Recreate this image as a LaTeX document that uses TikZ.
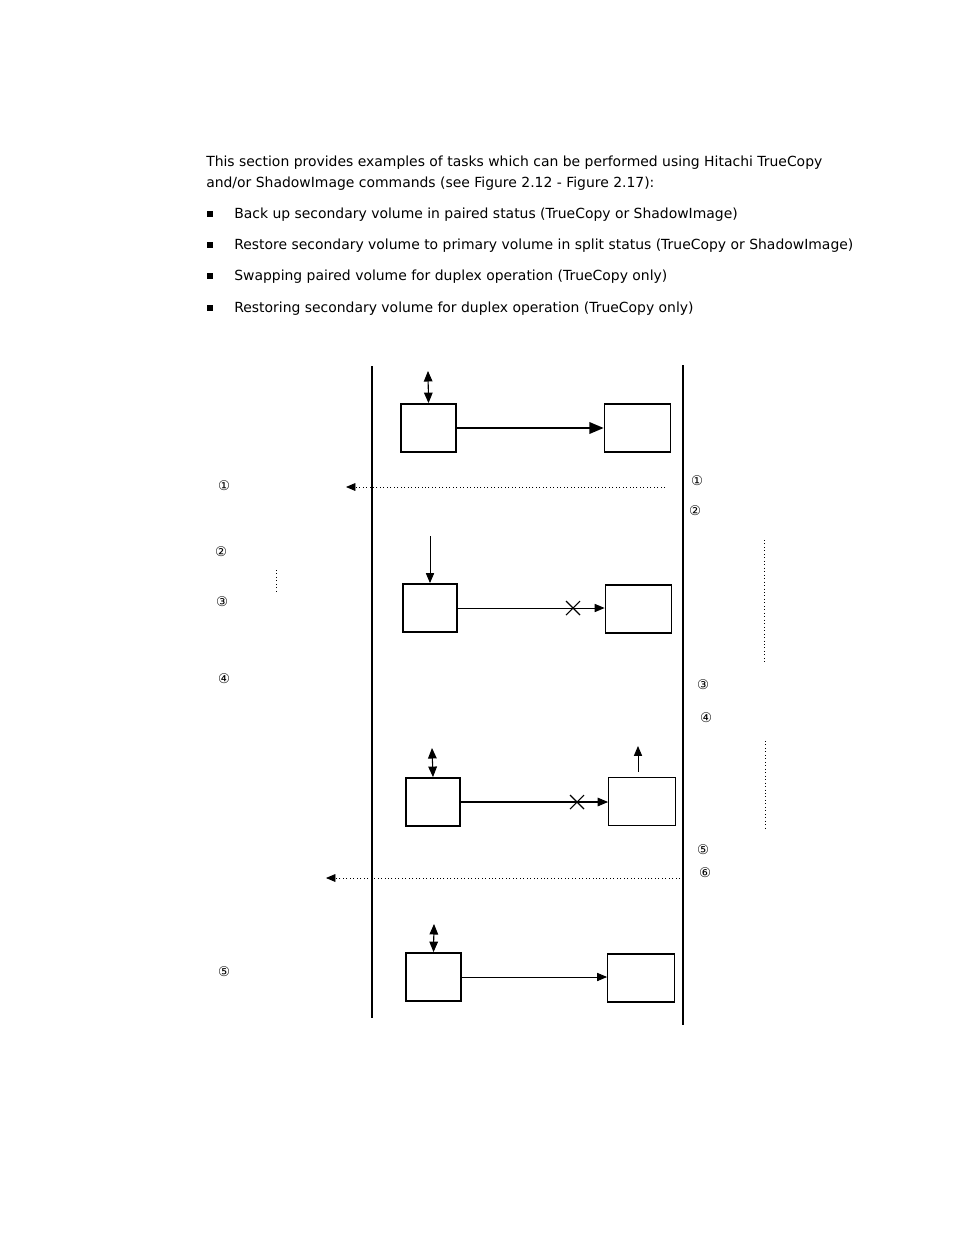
\documentclass[tikz,border=0pt]{standalone}
\usepackage{fontspec}
\setmainfont{DejaVu Sans}
\usetikzlibrary{arrows,positioning}

\begin{document}
\begin{tikzpicture}[x=0.75pt,y=-0.75pt,
  txt/.style={anchor=base west,inner sep=0pt,font=\fontsize{10.45}{12}\selectfont},
  num/.style={inner sep=0pt,font=\fontsize{10}{12}\selectfont},
  bul/.style={fill=black,inner sep=0pt,minimum size=4.2pt},
  pbox/.style={draw,line width=1.4pt,minimum width=41pt,minimum height=36pt,inner sep=0pt},
  sbox/.style={draw,line width=0.9pt,minimum width=50pt,minimum height=36pt,inner sep=0pt},
  site/.style={line width=1.6pt},
  copy/.style={-triangle 45,line width=1.5pt},
  io/.style={triangle 45-triangle 45,line width=0.8pt},
  note/.style={dotted,line width=0.6pt},
  cut/.style={line width=0.8pt}]
\useasboundingbox (0,0) rectangle (954,1235);

% text
\node[txt] (t1) at (206,166) {This section provides examples of tasks which can be performed using Hitachi TrueCopy};
\node[txt] (t2) at (206,187) {and/or ShadowImage commands (see Figure 2.12 - Figure 2.17):};
\foreach \y/\s in {218/Back up secondary volume in paired status (TrueCopy or ShadowImage),
  249/Restore secondary volume to primary volume in split status (TrueCopy or ShadowImage),
  280/Swapping paired volume for duplex operation (TrueCopy only),
  312/Restoring secondary volume for duplex operation (TrueCopy only)}{
  \node[bul] at (210,\y-4) {};
  \node[txt] at (234,\y) {\s};
}

% sites
\coordinate (lt) at (372,366); \coordinate (lb) at (372,1018);
\coordinate (rt) at (683,365); \coordinate (rb) at (683,1025);
\draw[site] (lt) -- (lb);
\draw[site] (rt) -- (rb);

% paired
\node[pbox] (p1) at (428.5,428) {};
\node[sbox] (s1) at (637.5,428) {};
\coordinate (h1) at (428,371);
\draw[io] (h1) -- (p1.north);
\draw[copy] (p1.east) -- (p1.east -| s1.west);

% notify
\coordinate (n1a) at (665,487); \coordinate (n1b) at (346,487);
\draw[note,-triangle 45] (n1a) -- (n1b);
\node[num] (l1) at (224,486) {①};
\node[num] (r1) at (697,481) {①};
\node[num] (r2) at (695,511) {②};

% split
\node[pbox] (p2) at (430,608) {};
\node[sbox] (s2) at (638.5,609) {};
\coordinate (h2) at (430,536);
\draw[-triangle 45,line width=0.7pt] (h2) -- (p2.north);
\draw[-triangle 45,line width=0.7pt] (p2.east) -- (p2.east -| s2.west);
\node[cut] (x2) at (573,608) {};
\draw[cut] (x2) ++(-7,-7) -- ++(14,14) (x2) ++(-7,7) -- ++(14,-14);

\node[num] (l2) at (221,552) {②};
\coordinate (d1a) at (276,570); \coordinate (d1b) at (276,593);
\draw[note] (d1a) -- (d1b);
\node[num] (l3) at (222,602) {③};
\node[num] (l4) at (224,679) {④};
\coordinate (d2a) at (764,540); \coordinate (d2b) at (764,664);
\draw[note] (d2a) -- (d2b);
\node[num] (r3) at (703,685) {③};
\node[num] (r4) at (706,718) {④};

% swap
\node[pbox] (p3) at (433,802) {};
\node[sbox] (s3) at (642,801.5) {};
\coordinate (h3) at (432,748);
\draw[io] (h3) -- (p3.north);
\coordinate (h4) at (638,746);
\draw[-triangle 45,line width=0.7pt] (s3.north -| h4) ++(0,-5) -- (h4);
\draw[-triangle 45,line width=0.8pt] (p3.east) -- (p3.east -| s3.west);
\node[cut] (x3) at (577,802) {};
\draw[cut] (x3) ++(-7,-7) -- ++(14,14) (x3) ++(-7,7) -- ++(14,-14);
\coordinate (d3a) at (765,741); \coordinate (d3b) at (765,829);
\draw[note] (d3a) -- (d3b);
\node[num] (r5) at (703,850) {⑤};
\node[num] (r6) at (705,873) {⑥};
\coordinate (n2a) at (680,878); \coordinate (n2b) at (326,878);
\draw[note,-triangle 45] (n2a) -- (n2b);

% restored
\node[pbox] (p4) at (433.5,977) {};
\node[sbox] (s4) at (641,978) {};
\coordinate (h5) at (434,924);
\draw[io] (h5) -- (p4.north);
\draw[-triangle 45,line width=0.7pt] (p4.east) -- (p4.east -| s4.west);
\node[num] (l5) at (224,972) {⑤};

\end{tikzpicture}
\end{document}
